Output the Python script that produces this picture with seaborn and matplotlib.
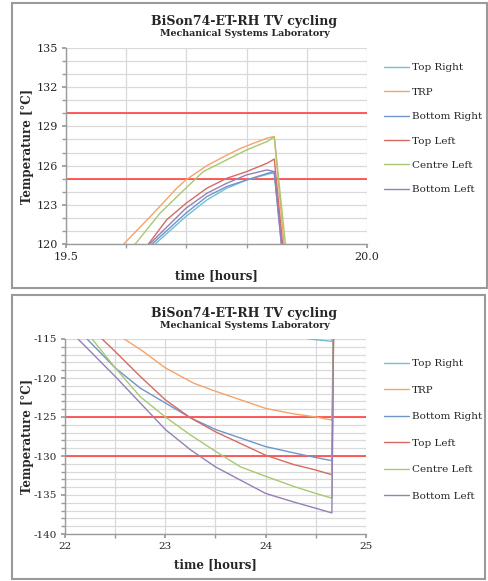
import matplotlib
matplotlib.use("Agg")
import matplotlib.pyplot as plt
from matplotlib.ticker import MultipleLocator, FixedLocator
from matplotlib.patches import Rectangle
import seaborn as sns
import pandas as pd

# series names / colours
names = ["Top Right", "TRP", "Bottom Right", "Top Left", "Centre Left", "Bottom Left"]
colors = ["#6fbfd6", "#f4a46a", "#6f95c9", "#d56a66", "#a9c870", "#9580b6"]
limits = [125, 130]

# upper panel: heating peak (time in hours, temperature in C)
top_t = {
    "TRP": [19.585, 19.596, 19.64, 19.684, 19.699, 19.734, 19.767, 19.789, 19.811, 19.834, 19.846, 19.866],
    "Centre Left": [19.605, 19.615, 19.656, 19.699, 19.728, 19.767, 19.8, 19.834, 19.846, 19.869],
    "Top Left": [19.627, 19.637, 19.667, 19.699, 19.734, 19.767, 19.8, 19.834, 19.846, 19.864],
    "Bottom Left": [19.629, 19.639, 19.699, 19.734, 19.767, 19.8, 19.834, 19.846, 19.862],
    "Bottom Right": [19.633, 19.643, 19.699, 19.734, 19.767, 19.8, 19.834, 19.846, 19.863],
    "Top Right": [19.638, 19.648, 19.699, 19.734, 19.767, 19.8, 19.84, 19.846, 19.862],
}
top_T = {
    "TRP": [119.5, 120.0, 122.1, 124.27, 124.9, 126.0, 126.8, 127.3, 127.7, 128.1, 128.23, 118.0],
    "Centre Left": [119.5, 120.0, 122.35, 124.27, 125.54, 126.44, 127.2, 127.84, 128.2, 118.0],
    "Top Left": [119.5, 120.0, 121.84, 123.1, 124.27, 125.03, 125.54, 126.18, 126.5, 118.0],
    "Bottom Left": [119.5, 120.0, 122.73, 123.88, 124.65, 125.29, 125.67, 125.54, 118.0],
    "Bottom Right": [119.5, 120.0, 122.35, 123.63, 124.4, 124.9, 125.4, 125.54, 118.0],
    "Top Right": [119.5, 120.0, 122.1, 123.37, 124.27, 124.9, 125.4, 125.4, 118.0],
}

# lower panel: cold soak
bot_t = {
    "TRP": [22.5, 22.58, 22.78, 23.0, 23.28, 23.5, 23.75, 24.0, 24.28, 24.5, 24.66, 24.68],
    "Bottom Right": [22.17, 22.22, 22.5, 22.75, 23.0, 23.25, 23.5, 23.75, 24.0, 24.28, 24.5, 24.66, 24.68],
    "Top Left": [22.33, 22.37, 22.5, 22.75, 23.0, 23.25, 23.5, 23.75, 24.0, 24.28, 24.5, 24.66, 24.68],
    "Centre Left": [22.23, 22.27, 22.5, 22.75, 23.0, 23.25, 23.5, 23.75, 24.0, 24.28, 24.5, 24.66, 24.68],
    "Bottom Left": [22.1, 22.13, 22.5, 22.75, 23.0, 23.25, 23.5, 23.75, 24.0, 24.28, 24.5, 24.66, 24.68],
    "Top Right": [24.38, 24.43, 24.66, 24.68],
}
bot_T = {
    "TRP": [-113.2, -114.9, -116.6, -118.7, -120.65, -121.7, -122.8, -123.9, -124.6, -125.0, -125.4, -110.0],
    "Bottom Right": [-113.5, -115.0, -118.7, -121.3, -123.2, -125.1, -126.6, -127.7, -128.8, -129.6, -130.2, -130.6, -110.0],
    "Top Left": [-113.5, -115.0, -116.6, -119.8, -122.8, -125.1, -126.9, -128.4, -129.9, -131.1, -131.8, -132.4, -110.0],
    "Centre Left": [-113.5, -115.0, -118.7, -122.4, -125.0, -127.3, -129.4, -131.4, -132.6, -133.9, -134.8, -135.4, -110.0],
    "Bottom Left": [-113.5, -115.0, -119.8, -123.2, -126.6, -129.2, -131.4, -133.1, -134.8, -135.9, -136.7, -137.3, -110.0],
    "Top Right": [-114.8, -115.0, -115.3, -110.0],
}
bot_limits = [-125, -130]


def to_long(tt, TT):
    rows = []
    for n in names:
        for t, T in zip(tt[n], TT[n]):
            rows.append({"series": n, "time": t, "temp": T})
    return pd.DataFrame(rows)


sns.set_theme(style="white")
plt.rcParams["font.family"] = ["DejaVu Serif", "DejaVu Sans"]
plt.rcParams["axes.unicode_minus"] = False

fig = plt.figure(figsize=(4.89, 5.81), dpi=100)
fig.patch.set_facecolor("white")

# panel frames
for (x0, y0, w, h) in [(12, 3, 475, 285), (12, 295, 473, 284)]:
    fig.patches.append(Rectangle((x0 / 489, 1 - (y0 + h) / 581), w / 489, h / 581,
                                 transform=fig.transFigure, fill=False,
                                 edgecolor="#9a9a9a", linewidth=1.5))

palette = dict(zip(names, colors))


def style_axes(ax, label_x, tick_size):
    ax.grid(True, which="both", color="#d9d9d9", linewidth=0.9)
    ax.set_axisbelow(True)
    for s in ["top", "right"]:
        ax.spines[s].set_visible(False)
    for s in ["left", "bottom"]:
        ax.spines[s].set_color("#9a9a9a")
        ax.spines[s].set_linewidth(1.0)
    ax.tick_params(which="both", direction="out", length=3, color="#9a9a9a",
                   labelsize=tick_size, pad=3, left=True, bottom=True)
    ax.set_xlabel("time [hours]", fontsize=8.5, fontweight="bold", labelpad=5)
    ax.set_ylabel("Temperature [°C]", fontsize=8.5, fontweight="bold")
    ax.yaxis.set_label_coords(label_x, 0.5)


def add_legend(ax, y_top, spacing):
    h, l = ax.get_legend_handles_labels()
    if ax.get_legend():
        ax.get_legend().remove()
    ax.legend(h, l, loc="upper left", bbox_to_anchor=(380 / 489, 1 - y_top / 581),
              bbox_transform=fig.transFigure, frameon=False, fontsize=7.5,
              handlelength=2.4, handletextpad=0.3, labelspacing=spacing,
              borderaxespad=0)


def add_title(y):
    fig.text(0.5, 1 - y / 581, "BiSon74-ET-RH TV cycling", ha="center", va="center",
             fontsize=9, fontweight="bold")
    fig.text(0.5, 1 - (y + 13) / 581, "Mechanical Systems Laboratory", ha="center",
             va="center", fontsize=6.8, fontweight="bold")


# ---- upper panel
ax1 = fig.add_axes([66 / 489, 1 - 244 / 581, 301 / 489, 196 / 581])
sns.lineplot(data=to_long(top_t, top_T), x="time", y="temp", hue="series",
             hue_order=names, palette=palette, sort=False, estimator=None,
             linewidth=1.0, ax=ax1)
for v in limits:
    ax1.axhline(v, color="#ff4040", linewidth=1.4, alpha=0.85, zorder=1.5)
ax1.set_xlim(19.5, 20.0)
ax1.set_ylim(120, 135)
ax1.xaxis.set_major_locator(FixedLocator([19.5, 20.0]))
ax1.xaxis.set_minor_locator(MultipleLocator(0.1))
ax1.yaxis.set_major_locator(MultipleLocator(3))
ax1.yaxis.set_minor_locator(MultipleLocator(1))
ax1.set_xticklabels(["19.5", "20.0"])
style_axes(ax1, -0.106, 8)
add_legend(ax1, 59, 1.45)
add_title(21)

# ---- lower panel
ax2 = fig.add_axes([65 / 489, 1 - 534 / 581, 301 / 489, 195 / 581])
sns.lineplot(data=to_long(bot_t, bot_T), x="time", y="temp", hue="series",
             hue_order=names, palette=palette, sort=False, estimator=None,
             linewidth=1.0, ax=ax2)
for v in bot_limits:
    ax2.axhline(v, color="#ff4040", linewidth=1.4, alpha=0.85, zorder=1.5)
ax2.set_xlim(22, 25)
ax2.set_ylim(-140, -115)
ax2.xaxis.set_major_locator(MultipleLocator(1))
ax2.xaxis.set_minor_locator(MultipleLocator(0.5))
ax2.yaxis.set_major_locator(MultipleLocator(5))
ax2.yaxis.set_minor_locator(MultipleLocator(1))
style_axes(ax2, -0.103, 7.5)
add_legend(ax2, 355, 1.65)
add_title(313)

fig.savefig("out.png", dpi=100)
